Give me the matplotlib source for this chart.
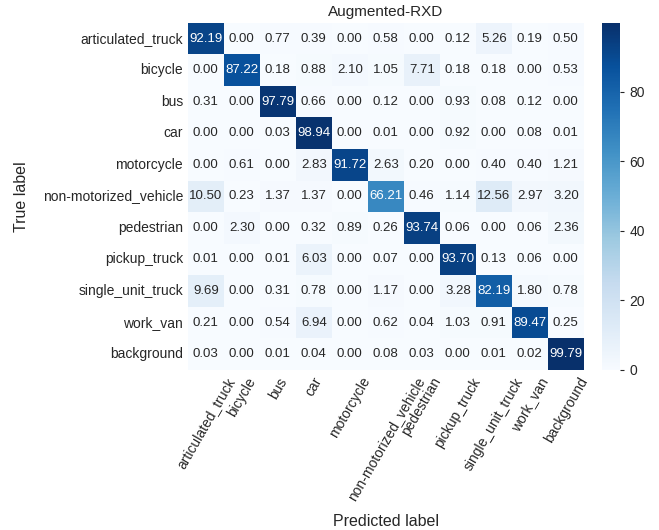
import matplotlib.pyplot as plt
import numpy as np
import seaborn as sns

classes = ["articulated_truck", "bicycle", "bus", "car", "motorcycle",
           "non-motorized_vehicle", "pedestrian", "pickup_truck",
           "single_unit_truck", "work_van", "background"]

# row-normalised confusion matrix (percent), rows = true, cols = predicted
cm = np.array([
    [92.19, 0.00, 0.77, 0.39, 0.00, 0.58, 0.00, 0.12, 5.26, 0.19, 0.50],
    [0.00, 87.22, 0.18, 0.88, 2.10, 1.05, 7.71, 0.18, 0.18, 0.00, 0.53],
    [0.31, 0.00, 97.79, 0.66, 0.00, 0.12, 0.00, 0.93, 0.08, 0.12, 0.00],
    [0.00, 0.00, 0.03, 98.94, 0.00, 0.01, 0.00, 0.92, 0.00, 0.08, 0.01],
    [0.00, 0.61, 0.00, 2.83, 91.72, 2.63, 0.20, 0.00, 0.40, 0.40, 1.21],
    [10.50, 0.23, 1.37, 1.37, 0.00, 66.21, 0.46, 1.14, 12.56, 2.97, 3.20],
    [0.00, 2.30, 0.00, 0.32, 0.89, 0.26, 93.74, 0.06, 0.00, 0.06, 2.36],
    [0.01, 0.00, 0.01, 6.03, 0.00, 0.07, 0.00, 93.70, 0.13, 0.06, 0.00],
    [9.69, 0.00, 0.31, 0.78, 0.00, 1.17, 0.00, 3.28, 82.19, 1.80, 0.78],
    [0.21, 0.00, 0.54, 6.94, 0.00, 0.62, 0.04, 1.03, 0.91, 89.47, 0.25],
    [0.03, 0.00, 0.01, 0.04, 0.00, 0.08, 0.03, 0.00, 0.01, 0.02, 99.79],
])

sns.set_style("white")
plt.rcParams["font.family"] = ["Liberation Sans", "DejaVu Sans"]
plt.rcParams["text.color"] = "#262626"
plt.rcParams["xtick.color"] = "#262626"
plt.rcParams["ytick.color"] = "#262626"
plt.rcParams["axes.labelcolor"] = "#262626"

fig = plt.figure(figsize=(6.59, 5.30), dpi=100)
ax = fig.add_axes([0.285, 0.302, 0.601, 0.655])
cax = fig.add_axes([0.913, 0.302, 0.028, 0.655])

sns.heatmap(cm, annot=True, fmt=".2f", cmap="Blues", ax=ax, cbar_ax=cax,
            xticklabels=classes, yticklabels=classes,
            annot_kws={"fontsize": 9.5})

ax.set_title("Augmented-RXD", fontsize=11, pad=5)
ax.set_xlabel("Predicted label", fontsize=11.5)
ax.set_ylabel("True label", fontsize=11.5)
ax.tick_params(axis="both", length=0, labelsize=10)
plt.setp(ax.get_xticklabels(), rotation=60)
plt.setp(ax.get_yticklabels(), rotation=0)
ax.xaxis.set_label_coords(0.5, -0.415)
ax.yaxis.set_label_coords(-0.40, 0.5)

cax.tick_params(labelsize=10, length=3, color="#262626")
cax.set_yticks([0, 20, 40, 60, 80])

fig.savefig("out.png", dpi=100)
